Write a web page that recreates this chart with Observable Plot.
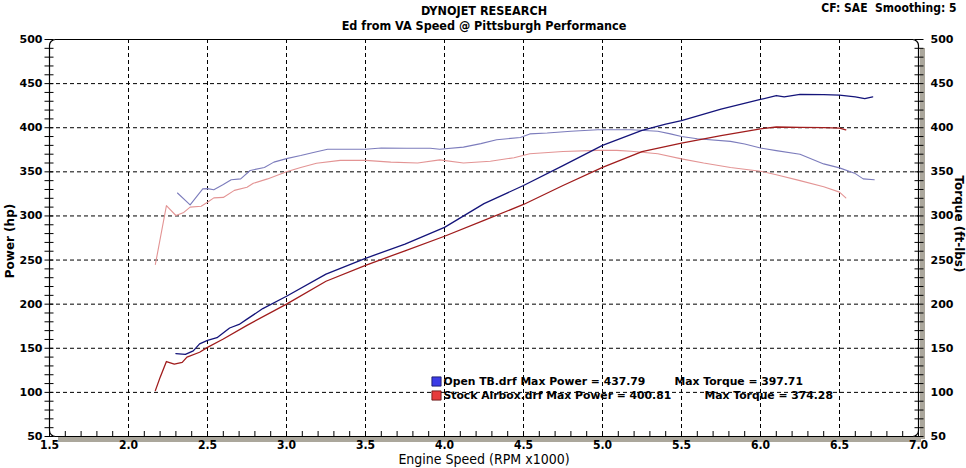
<!DOCTYPE html>
<html><head><meta charset="utf-8">
<script src="https://cdn.jsdelivr.net/npm/d3@7"></script>
<script src="https://cdn.jsdelivr.net/npm/@observablehq/plot@0.6"></script>
<style>body{margin:0;background:#fff}</style>
</head><body><div id="chart"></div>
<script>
// ---- data (RPM x1000, values) ----
const openPowerRpm = [2.30,2.36,2.41,2.45,2.50,2.56,2.64,2.70,2.75,2.85,3.00,3.25,3.50,3.75,4.00,4.25,4.50,4.75,5.00,5.25,5.40,5.50,5.75,6.00,6.10,6.15,6.25,6.40,6.50,6.60,6.66,6.71];
const openPower    = [144,143,147,155,159,162,173,177,183,195,209,234,252,268,287,314,334.5,357,380,397,404,408,421,432,436.5,435,437.8,437.5,437,435,433,435];
const stockPowerRpm = [2.17,2.20,2.24,2.29,2.34,2.37,2.45,2.50,2.60,2.75,3.00,3.25,3.50,3.75,4.00,4.25,4.50,4.75,5.00,5.25,5.50,5.75,6.00,6.10,6.25,6.40,6.50,6.54];
const stockPower    = [102,117,135,132,134,140,145.5,151,160.5,176,200,226,244,260.5,277,295,313,334.5,355,373,382.5,391,398.7,400.8,400.5,400.2,399.5,397.6];
const openTorqueRpm = [2.31,2.39,2.47,2.50,2.54,2.60,2.65,2.71,2.77,2.86,2.92,3.00,3.09,3.17,3.26,3.50,3.60,3.76,3.91,3.97,4.12,4.23,4.33,4.48,4.54,4.65,4.80,4.97,5.18,5.35,5.43,5.50,5.60,5.81,5.90,6.00,6.10,6.25,6.40,6.50,6.60,6.65,6.72];
const openTorque    = [326,312.6,330.7,331,329.6,335.6,341,342,351.5,355,361,365,368.5,372,375.6,375.6,377,376.8,376.8,375.6,378,382,386.3,389,393,394,396,397.7,397.7,396,393,390,387.5,384.5,381.6,377,374,370,359,354.5,348,342,341];
const stockTorqueRpm = [2.17,2.24,2.30,2.35,2.39,2.46,2.50,2.54,2.60,2.67,2.75,2.79,2.88,3.00,3.09,3.19,3.34,3.50,3.66,3.83,3.97,4.12,4.29,4.44,4.54,4.75,4.97,5.09,5.18,5.35,5.50,5.64,5.81,6.00,6.10,6.25,6.40,6.50,6.54];
const stockTorque    = [245,311.8,300.5,304,310,311,315.5,320.5,321,329,332.5,337,342,350,355,359.8,363,363,361,360,363.6,360,362,366,370.5,373,374.3,374.3,373.4,370.5,364.7,360,355,350.7,346.6,340,333,327,320.5];

const xDomain = [1.5, 7.0];
const yDomain = [50, 500];
const xTicks = [1.5,2.0,2.5,3.0,3.5,4.0,4.5,5.0,5.5,6.0,6.5,7.0];
const yTicks = [50,100,150,200,250,300,350,400,450,500];
const xGrid = [2.0,2.5,3.0,3.5,4.0,4.5,5.0,5.5,6.0,6.5];
const yGrid = [100,150,200,250,300,350,400,450];
const xMinor = d3.range(15, 71).map(d => d / 10);
const yMinor = d3.range(50, 501, 10);

const titles = ["DYNOJET RESEARCH", "Ed from VA Speed @ Pittsburgh Performance"];
const corner = "CF: SAE  Smoothing: 5";
const legendNames = ["Open TB.drf", "Stock Airbox.drf"];
const legendMaxPower = ["437.79", "400.81"];
const legendMaxTorque = ["397.71", "374.28"];

const toRows = (xs, ys) => xs.map((x, i) => ({rpm: x, value: ys[i]}));

const bold = {fontFamily: "DejaVu Sans", fontWeight: "bold", fontSize: 11, fill: "black"};
const cond = {fontFamily: "DejaVu Sans Condensed, DejaVu Sans", fontSize: 12, fill: "black"};
const mid = {lineAnchor: "middle"};

const chart = Plot.plot({
  width: 966, height: 468,
  marginTop: 39, marginRight: 48, marginBottom: 32, marginLeft: 49,
  x: {domain: xDomain, axis: null},
  y: {domain: yDomain, axis: null},
  style: {background: "white", fontFamily: "DejaVu Sans", overflow: "visible"},
  marks: [
    // shadow
    Plot.ruleX([xDomain[1]], {stroke: "#aba79c", strokeWidth: 5, dx: 4, insetTop: 6, dy: 3}),
    Plot.ruleY([yDomain[0]], {stroke: "#aba79c", strokeWidth: 5, dy: 3, insetLeft: 6, dx: 3}),
    Plot.gridX({ticks: xGrid, stroke: "black", strokeOpacity: 1, strokeDasharray: "4,3"}),
    Plot.gridY({ticks: yGrid, stroke: "black", strokeOpacity: 1, strokeDasharray: "4,3"}),
    Plot.frame({stroke: "black", strokeWidth: 1.2, rx: 6}),
    // minor ticks
    Plot.axisY({anchor: "left", ticks: yMinor, tickSize: 9, dx: 4.5, tickFormat: () => "", label: null}),
    Plot.axisY({anchor: "right", ticks: yMinor, tickSize: 9, dx: -4.5, tickFormat: () => "", label: null}),
    Plot.axisX({anchor: "bottom", ticks: xMinor, tickSize: 5, dy: -5, tickFormat: () => "", label: null}),
    // tick labels
    Plot.axisY({anchor: "left", ticks: yTicks, tickSize: 0, tickPadding: 7, label: null, ...bold}),
    Plot.axisY({anchor: "right", ticks: yTicks, tickSize: 0, tickPadding: 12, label: null, ...bold}),
    Plot.axisX({anchor: "bottom", ticks: xTicks, tickSize: 0, tickPadding: 4, tickFormat: d3.format(".1f"), label: null, ...cond, fontWeight: "bold"}),
    // curves
    Plot.line(toRows(openTorqueRpm, openTorque), {x: "rpm", y: "value", stroke: "#7c7cbc", strokeWidth: 1.1}),
    Plot.line(toRows(stockTorqueRpm, stockTorque), {x: "rpm", y: "value", stroke: "#e39494", strokeWidth: 1.1}),
    Plot.line(toRows(stockPowerRpm, stockPower), {x: "rpm", y: "value", stroke: "#a01c1c", strokeWidth: 1.3}),
    Plot.line(toRows(openPowerRpm, openPower), {x: "rpm", y: "value", stroke: "#14147a", strokeWidth: 1.3}),
    // titles
    Plot.text([titles[0]], {text: d => d, frameAnchor: "top", dy: -29, ...mid, ...cond, fontWeight: "bold", fontSize: 12.5}),
    Plot.text([titles[1]], {text: d => d, frameAnchor: "top", dy: -14, ...mid, ...cond, fontWeight: "bold", fontSize: 12.5}),
    Plot.text([corner], {text: d => d, frameAnchor: "top-right", textAnchor: "end", dx: 38, dy: -31, ...mid, ...cond, fontWeight: "bold"}),
    // axis titles
    Plot.text(["Power (hp)"], {text: d => d, frameAnchor: "left", textAnchor: "middle", rotate: -90, dx: -39, dy: 3, ...mid, ...bold, fontSize: 12}),
    Plot.text(["Torque (ft-lbs)"], {text: d => d, frameAnchor: "right", textAnchor: "middle", rotate: 90, dx: 40, dy: -14, ...mid, ...bold, fontSize: 12}),
    Plot.text(["Engine Speed (RPM x1000)"], {text: d => d, frameAnchor: "bottom", dy: 23.5, ...mid, ...cond, fontSize: 14}),
    // legend
    Plot.dot([0], {frameAnchor: "bottom-left", dx: 387, dy: -55, symbol: "square", r: 5.2, fill: "#3c3ce6", stroke: "#10105a", strokeWidth: 0.8}),
    Plot.dot([0], {frameAnchor: "bottom-left", dx: 387, dy: -41, symbol: "square", r: 5.2, fill: "#e63c3c", stroke: "#5a1010", strokeWidth: 0.8}),
    Plot.text([0], {text: () => `${legendNames[0]} Max Power = ${legendMaxPower[0]}`, frameAnchor: "bottom-left", textAnchor: "start", dx: 394, dy: -55, ...mid, ...bold, fontSize: 10.8}),
    Plot.text([0], {text: () => `Max Torque = ${legendMaxTorque[0]}`, frameAnchor: "bottom-left", textAnchor: "start", dx: 625, dy: -55, ...mid, ...bold, fontSize: 10.8}),
    Plot.text([0], {text: () => `${legendNames[1]} Max Power = ${legendMaxPower[1]}`, frameAnchor: "bottom-left", textAnchor: "start", dx: 394, dy: -41, ...mid, ...bold, fontSize: 10.8}),
    Plot.text([0], {text: () => `Max Torque = ${legendMaxTorque[1]}`, frameAnchor: "bottom-left", textAnchor: "start", dx: 655, dy: -41, ...mid, ...bold, fontSize: 10.8})
  ]
});
document.getElementById("chart").appendChild(chart);
</script>
</body></html>
